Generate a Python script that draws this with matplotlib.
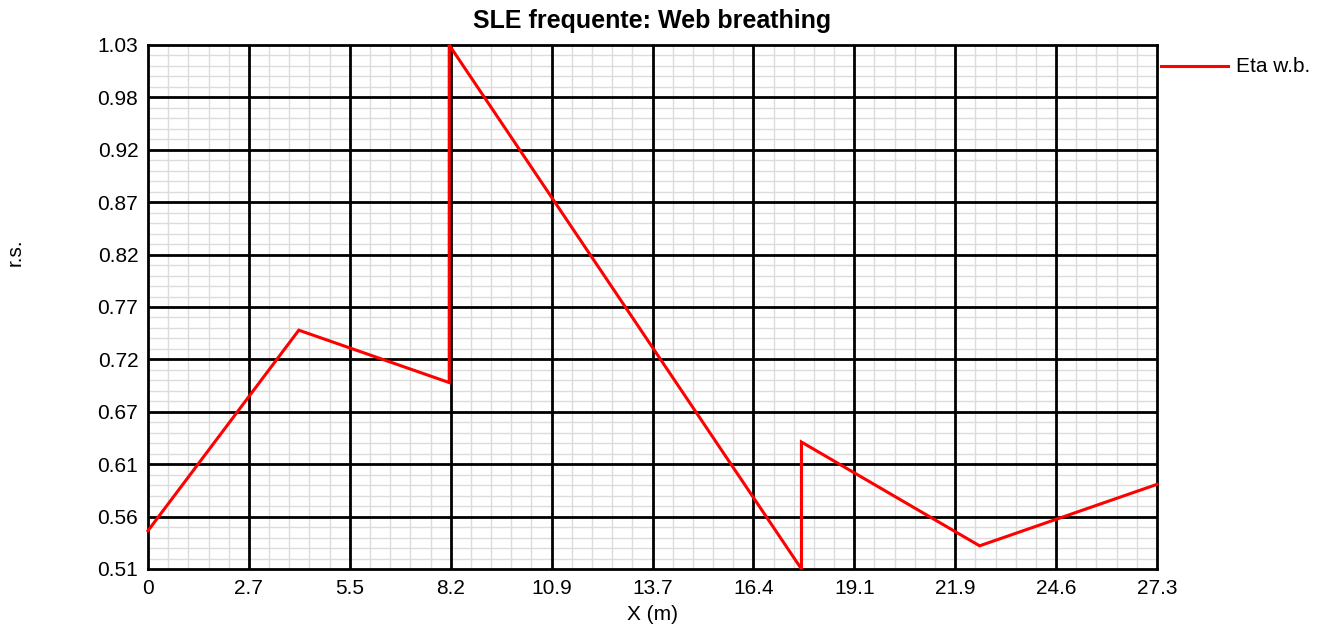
import numpy as np
import matplotlib
matplotlib.use("Agg")
import matplotlib.pyplot as plt
from matplotlib.lines import Line2D
from matplotlib.ticker import FixedLocator

plt.rcParams['font.family'] = ['Liberation Sans', 'DejaVu Sans']

# Web breathing ratio along the girder
x_m = [0.0, 4.08, 8.15, 8.15, 17.68, 17.68, 22.5, 27.3]
eta_wb = [0.548, 0.747, 0.695, 1.03, 0.51, 0.636, 0.533, 0.594]

x_ticks = [0, 2.73, 5.46, 8.19, 10.92, 13.65, 16.38, 19.11, 21.84, 24.57, 27.3]
x_tick_labels = ['0', '2.7', '5.5', '8.2', '10.9', '13.7', '16.4', '19.1', '21.9', '24.6', '27.3']
y_ticks = [0.51, 0.562, 0.614, 0.666, 0.718, 0.77, 0.822, 0.874, 0.926, 0.978, 1.03]
y_tick_labels = ['0.51', '0.56', '0.61', '0.67', '0.72', '0.77', '0.82', '0.87', '0.92', '0.98', '1.03']

fig = plt.figure(figsize=(13.22, 6.30), dpi=100)
ax = fig.add_axes([148/1322, 1-569/630, (1157-148)/1322, (569-45)/630])

ax.set_xlim(0, 27.3)
ax.set_ylim(0.51, 1.03)

# light minor grid: five subdivisions per major interval
for i in range(len(x_ticks) - 1):
    step = (x_ticks[i+1] - x_ticks[i]) / 5
    for k in range(1, 5):
        ax.axvline(x_ticks[i] + k*step, color='#dcdcdc', lw=1.0, zorder=0)
for i in range(len(y_ticks) - 1):
    step = (y_ticks[i+1] - y_ticks[i]) / 5
    for k in range(1, 5):
        ax.axhline(y_ticks[i] + k*step, color='#dcdcdc', lw=1.0, zorder=0)
# heavy major grid
for xv in x_ticks[1:-1]:
    ax.axvline(xv, color='black', lw=2.0, zorder=1)
for yv in y_ticks[1:-1]:
    ax.axhline(yv, color='black', lw=2.0, zorder=1)

ax.plot(x_m, eta_wb, color='#ff0000', lw=2.2, solid_joinstyle='miter', zorder=5, clip_on=False)

ax.xaxis.set_major_locator(FixedLocator(x_ticks))
ax.yaxis.set_major_locator(FixedLocator(y_ticks))
ax.set_xticklabels(x_tick_labels)
ax.set_yticklabels(y_tick_labels)
ax.tick_params(which='both', length=0, labelsize=15, pad=7)
for s in ax.spines.values():
    s.set_linewidth(2.0)
    s.set_color('black')
    s.set_zorder(4)

ax.set_title('SLE frequente: Web breathing', fontsize=18, fontweight='bold', pad=12)
ax.set_xlabel('X (m)', fontsize=15, labelpad=5)
fig.text(15/1322, 1-252/630, 'r.s.', rotation=90, fontsize=15, ha='center', va='center')

# legend drawn beside the plot area
fig.add_artist(Line2D([1161/1322, 1228/1322], [1-66/630, 1-66/630], color='#ff0000', lw=2.2))
fig.text(1236/1322, 1-66/630, 'Eta w.b.', fontsize=15, ha='left', va='center')

fig.savefig('out.png', dpi=100)
